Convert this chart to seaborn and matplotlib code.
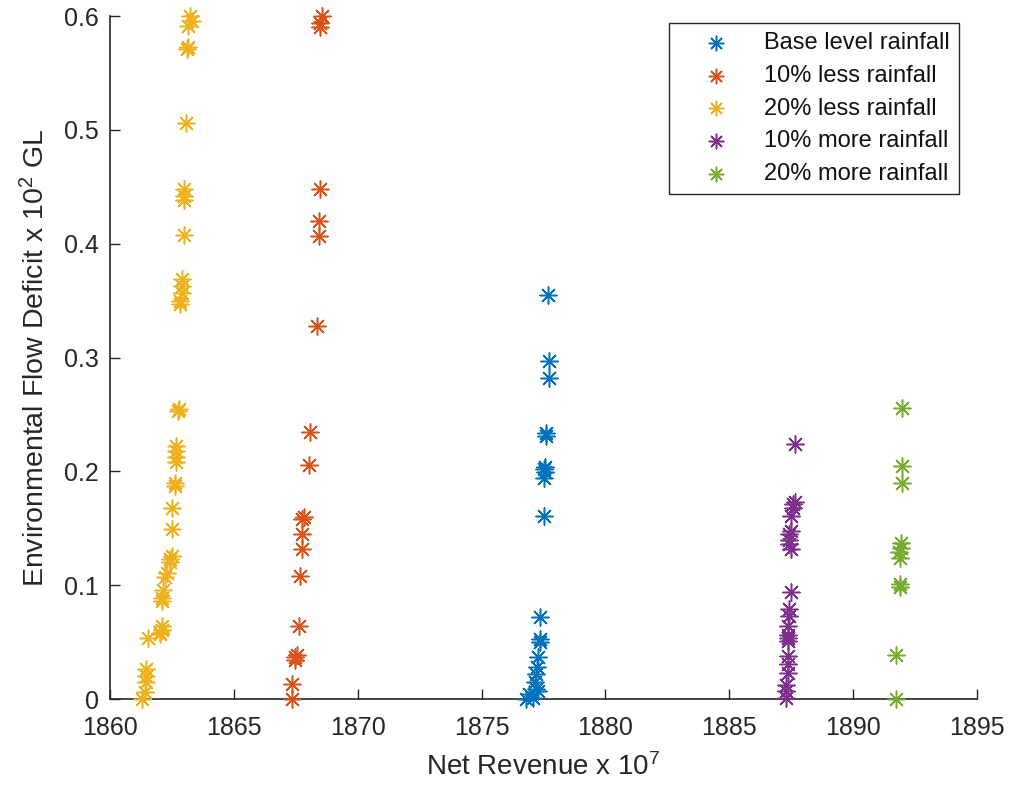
import matplotlib
matplotlib.use("Agg")
import matplotlib.pyplot as plt
import seaborn as sns

# ---- data -------------------------------------------------------------
series_names = ["Base level rainfall", "10% less rainfall", "20% less rainfall",
                "10% more rainfall", "20% more rainfall"]
series_colors = ["#0072BD", "#D95319", "#EDB120", "#7E2F8E", "#77AC30"]

base_x = [1877.67, 1877.72, 1877.72, 1877.61, 1877.61, 1877.58, 1877.54, 1877.58,
          1877.54, 1877.54, 1877.34, 1877.34, 1877.34, 1877.27, 1877.23, 1877.20,
          1877.14, 1877.20, 1877.27, 1876.93, 1877.07, 1876.80]
base_y = [0.355, 0.297, 0.282, 0.234, 0.231, 0.204, 0.202, 0.199,
          0.194, 0.161, 0.072, 0.053, 0.050, 0.037, 0.028, 0.022,
          0.015, 0.009, 0.007, 0.004, 0.001, 0.000]

less10_x = [1867.35, 1867.35, 1867.48, 1867.48, 1867.55, 1867.62, 1867.68, 1867.75,
            1867.75, 1867.75, 1867.82, 1868.02, 1868.08, 1868.36, 1868.42, 1868.42,
            1868.49, 1868.49, 1868.49, 1868.55]
less10_y = [0.000, 0.013, 0.034, 0.037, 0.039, 0.064, 0.108, 0.132,
            0.145, 0.158, 0.160, 0.206, 0.235, 0.328, 0.407, 0.420,
            0.448, 0.590, 0.594, 0.600]

less20_x = [1861.28, 1861.40, 1861.47, 1861.47, 1861.47, 1861.55, 1862.02, 1862.02,
            1862.09, 1862.09, 1862.09, 1862.09, 1862.16, 1862.22, 1862.29, 1862.42,
            1862.42, 1862.49, 1862.49, 1862.49, 1862.62, 1862.62, 1862.66, 1862.66,
            1862.66, 1862.66, 1862.76, 1862.80, 1862.83, 1862.83, 1862.89, 1862.89,
            1862.89, 1862.99, 1862.99, 1862.99, 1862.99, 1863.07, 1863.10, 1863.14,
            1863.14, 1863.30, 1863.23]
less20_y = [0.000, 0.006, 0.015, 0.020, 0.026, 0.054, 0.057, 0.058,
            0.061, 0.064, 0.086, 0.089, 0.096, 0.107, 0.111, 0.120,
            0.123, 0.126, 0.149, 0.168, 0.187, 0.190, 0.208, 0.213,
            0.218, 0.222, 0.253, 0.255, 0.347, 0.350, 0.357, 0.363,
            0.369, 0.408, 0.438, 0.442, 0.448, 0.506, 0.571, 0.573,
            0.591, 0.596, 0.600]

more10_x = [1887.64, 1887.64, 1887.57, 1887.57, 1887.50, 1887.50, 1887.43, 1887.43,
            1887.43, 1887.50, 1887.50, 1887.43, 1887.43, 1887.37, 1887.37, 1887.37,
            1887.37, 1887.37, 1887.37, 1887.37, 1887.30, 1887.30, 1887.30]
more10_y = [0.224, 0.173, 0.171, 0.168, 0.161, 0.148, 0.145, 0.140,
            0.136, 0.132, 0.094, 0.079, 0.073, 0.064, 0.056, 0.054,
            0.051, 0.038, 0.031, 0.023, 0.012, 0.007, 0.001]

more20_x = [1891.98, 1891.98, 1891.98, 1891.94, 1891.94, 1891.87, 1891.90, 1891.90,
            1891.90, 1891.74, 1891.74]
more20_y = [0.256, 0.205, 0.190, 0.137, 0.133, 0.129, 0.124, 0.101,
            0.098, 0.039, 0.000]

x_ticks = [1860, 1865, 1870, 1875, 1880, 1885, 1890, 1895]
y_ticks = [0, 0.1, 0.2, 0.3, 0.4, 0.5, 0.6]
y_tick_labels = ["0", "0.1", "0.2", "0.3", "0.4", "0.5", "0.6"]

# ---- style --------------------------------------------------------------
sns.set_theme(style="ticks")
plt.rcParams["font.family"] = ["Liberation Sans", "DejaVu Sans"]
plt.rcParams["mathtext.default"] = "regular"
dark = "#262626"

fig = plt.figure(figsize=(10.24, 7.93), dpi=100)
ax = fig.add_axes([0.1074, 0.1185, 0.8467, 0.8613])

asterisk = (8, 2, 0)
all_x = [base_x, less10_x, less20_x, more10_x, more20_x]
all_y = [base_y, less10_y, less20_y, more10_y, more20_y]
for name, xs, ys, c in zip(series_names, all_x, all_y, series_colors):
    sns.scatterplot(x=xs, y=ys, ax=ax, marker=asterisk, s=150, color=c,
                    edgecolor=c, linewidth=1.1, label=name, clip_on=False,
                    zorder=3)

ax.set_xlim(1860, 1895)
ax.set_ylim(0, 0.6)
ax.set_xticks(x_ticks)
ax.set_xticklabels([str(t) for t in x_ticks])
ax.set_yticks(y_ticks)
ax.set_yticklabels(y_tick_labels)

sns.despine(ax=ax)
for side in ("left", "bottom"):
    ax.spines[side].set_color(dark)
    ax.spines[side].set_linewidth(1.2)

ax.tick_params(direction="in", length=7, width=1.0, color=dark,
               labelsize=18, labelcolor=dark)
ax.tick_params(axis="x", pad=12)
ax.tick_params(axis="y", pad=8)

ax.set_xlabel("Net Revenue x 10$^7$", fontsize=20, color=dark, labelpad=10)
ax.set_ylabel("Environmental Flow Deficit x 10$^2$ GL", fontsize=20.5,
              color=dark, labelpad=10)

leg = ax.legend(loc="upper right", bbox_to_anchor=(0.979, 0.99), fontsize=17,
                frameon=True, fancybox=False, edgecolor=dark, framealpha=1,
                handlelength=3.2, handletextpad=0.4, borderpad=0.4,
                labelspacing=0.45, borderaxespad=0, markerscale=0.85)
leg.get_frame().set_linewidth(1.0)
for t in leg.get_texts():
    t.set_color("#111111")

fig.savefig("out.png", dpi=100)
